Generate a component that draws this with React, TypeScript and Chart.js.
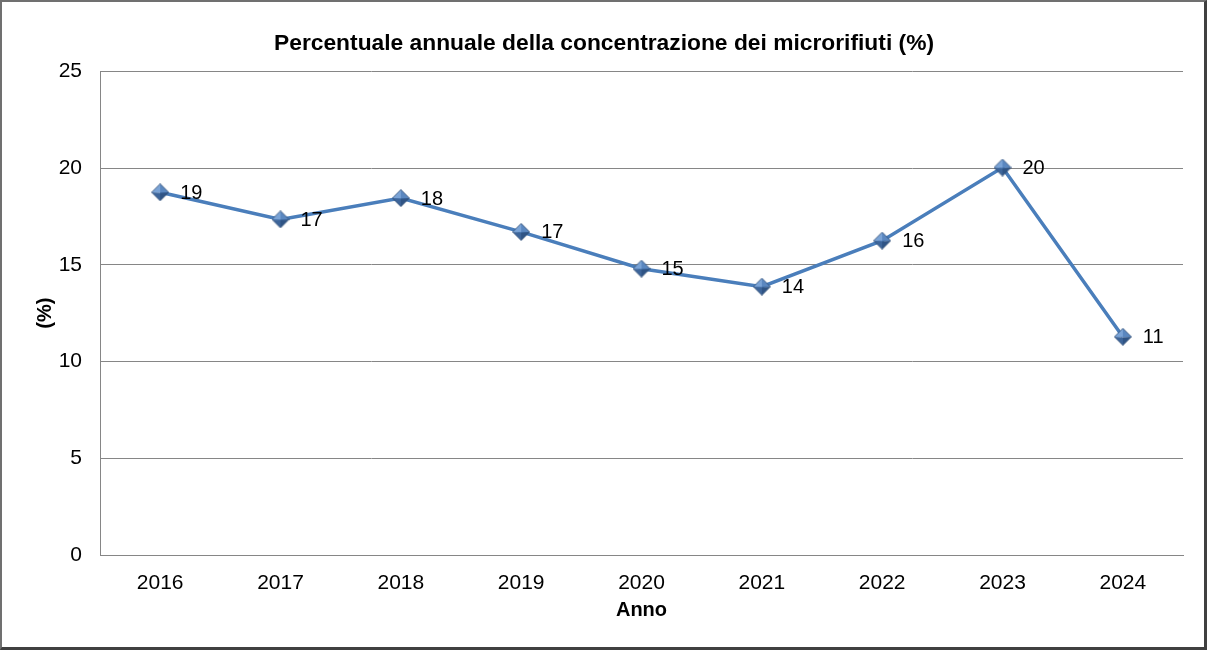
import React, { useEffect, useRef } from "react";
import { Chart, registerables } from "chart.js";

Chart.register(...registerables);

const categories = ["2016", "2017", "2018", "2019", "2020", "2021", "2022", "2023", "2024"];
const values = [18.75, 17.35, 18.45, 16.7, 14.8, 13.87, 16.25, 20.03, 11.28];
const yTicks = [0, 5, 10, 15, 20, 25];

const FONT = "'Liberation Sans', Arial, sans-serif";

function makeMarker(): HTMLCanvasElement {
  const s = 18;
  const c = document.createElement("canvas");
  c.width = s;
  c.height = s;
  const g = c.getContext("2d")!;
  const h = s / 2;
  const m = 0.5;
  const top = [h, m];
  const right = [s - m, h];
  const bottom = [h, s - m];
  const left = [m, h];
  const ctr = [h, h + 0.5];
  const facet = (a: number[], b: number[], col: string) => {
    g.beginPath();
    g.moveTo(a[0], a[1]);
    g.lineTo(b[0], b[1]);
    g.lineTo(ctr[0], ctr[1]);
    g.closePath();
    g.fillStyle = col;
    g.fill();
  };
  facet(left, top, "#7AA3D6");
  facet(top, right, "#5A87C0");
  facet(right, bottom, "#2F5485");
  facet(bottom, left, "#3D659A");
  g.beginPath();
  g.moveTo(top[0], top[1]);
  g.lineTo(right[0], right[1]);
  g.lineTo(bottom[0], bottom[1]);
  g.lineTo(left[0], left[1]);
  g.closePath();
  g.strokeStyle = "#2B4A72";
  g.lineWidth = 0.8;
  g.stroke();
  return c;
}

const labelPlugin = {
  id: "pointLabels",
  afterDatasetsDraw(chart: any) {
    const ctx = chart.ctx;
    const meta = chart.getDatasetMeta(0);
    ctx.save();
    ctx.font = `20px ${FONT}`;
    ctx.fillStyle = "#000";
    ctx.textAlign = "left";
    ctx.textBaseline = "middle";
    meta.data.forEach((pt: any, i: number) => {
      const v = chart.data.datasets[0].data[i] as number;
      ctx.fillText(String(Math.round(v)), pt.x + 20, pt.y + 1);
    });
    ctx.restore();
  },
};

export default function App() {
  const ref = useRef<HTMLCanvasElement>(null);
  useEffect(() => {
    document.body.style.margin = "0";
    const marker = makeMarker();
    const chart = new Chart(ref.current!, {
      type: "line",
      data: {
        labels: categories,
        datasets: [
          {
            data: values,
            borderColor: "#4A7EBB",
            borderWidth: 3.5,
            pointStyle: marker as any,
            pointRadius: 9,
            tension: 0,
          },
        ],
      },
      options: {
        animation: false,
        responsive: false,
        devicePixelRatio: 1,
        layout: { padding: { left: 25, right: 24, top: 20, bottom: 28 } },
        plugins: {
          legend: { display: false },
          tooltip: { enabled: false },
          title: {
            display: true,
            text: "Percentuale annuale della concentrazione dei microrifiuti (%)",
            color: "#000",
            font: { family: FONT, size: 22.8, weight: "bold" },
            padding: { top: 10, bottom: 14 },
          },
        },
        scales: {
          x: {
            offset: true,
            grid: { display: false, drawTicks: false },
            border: { display: true, color: "#868686", width: 1 },
            ticks: { color: "#000", font: { family: FONT, size: 21 }, padding: 16 },
            afterFit: (scale: any) => {
              scale.height = 67;
            },
            title: {
              display: true,
              text: "Anno",
              color: "#000",
              font: { family: FONT, size: 20, weight: "bold" },
              padding: { top: 0, bottom: 0 },
            },
          },
          y: {
            min: 0,
            max: 25,
            afterBuildTicks: (scale: any) => {
              scale.ticks = yTicks.map((v) => ({ value: v }));
            },
            afterFit: (scale: any) => {
              scale.width = 75;
            },
            grid: { color: "#868686", lineWidth: 1, drawTicks: false },
            border: { display: true, color: "#868686", width: 1 },
            ticks: { color: "#000", font: { family: FONT, size: 21 }, padding: 18 },
            title: {
              display: true,
              text: "(%)",
              color: "#000",
              font: { family: FONT, size: 20, weight: "bold" },
              padding: { top: 8, bottom: 0 },
            },
          },
        },
      },
      plugins: [labelPlugin],
    });
    return () => chart.destroy();
  }, []);
  return (
    <div style={{ position: "fixed", left: 0, top: 0, width: 1207, height: 650, background: "#fff" }}>
      <canvas ref={ref} width={1207} height={650} style={{ position: "absolute", left: 0, top: 0 }} />
      <div
        style={{
          position: "absolute",
          left: 0,
          top: 0,
          width: 1207,
          height: 650,
          boxSizing: "border-box",
          borderTop: "2px solid #707070",
          borderLeft: "2px solid #707070",
          borderRight: "3px solid #404040",
          borderBottom: "3px solid #404040",
          pointerEvents: "none",
        }}
      />
    </div>
  );
}
